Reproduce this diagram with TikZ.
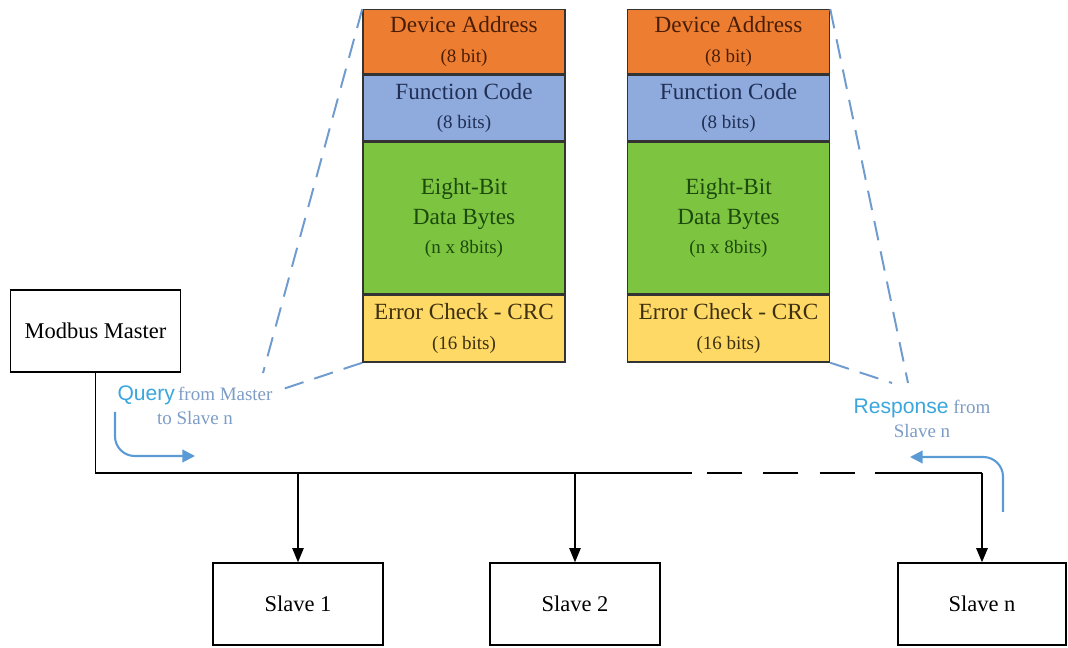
\documentclass[tikz,border=0pt]{standalone}
\usepackage{fontspec}
\setmainfont{Liberation Serif}
\setsansfont{Liberation Sans}
\usepackage{xcolor}
\usetikzlibrary{arrows.meta,positioning,calc}
\definecolor{addrorange}{HTML}{ED7D31}
\definecolor{funcblue}{HTML}{8FAADC}
\definecolor{datagreen}{HTML}{7DC441}
\definecolor{crcyellow}{HTML}{FFD966}
\definecolor{addrtext}{HTML}{4A1E06}
\definecolor{functext}{HTML}{1F2F55}
\definecolor{datatext}{HTML}{1C4A0C}
\definecolor{crctext}{HTML}{3D3010}
\definecolor{zoomblue}{HTML}{6F9BCF}
\definecolor{flowblue}{HTML}{5B9BD5}
\definecolor{labelblue}{HTML}{3AA6DD}
\definecolor{notegray}{HTML}{7D9CC6}
\newcommand{\smallbits}{\fontsize{13.5}{16}\selectfont}
\tikzset{
	unit/.style={draw=black, line width=1pt, minimum width=4.25cm, minimum height=2.05cm, font=\fontsize{16}{19}\selectfont},
	field/.style={draw=black!80, line width=1pt, minimum width=5.05cm, align=center, inner sep=0pt, font=\fontsize{16.5}{21}\selectfont},
	zoomline/.style={zoomblue, line width=1.4pt, dash pattern=on 14pt off 8pt},
	bus/.style={line width=1.4pt},
	drop/.style={line width=1pt, -{Triangle[length=10pt,width=8pt]}},
	flow/.style={flowblue, line width=1.5pt, rounded corners=14pt, -{Triangle[length=9pt,width=9pt]}},
	note/.style={align=center, text=notegray, font=\fontsize{13.5}{17}\selectfont}
}
\begin{document}
\begin{tikzpicture}[x=0.025cm, y=-0.025cm]
		\useasboundingbox (0,0) rectangle (1068,648);
		\foreach \fx/\fn in {464/q, 728.5/r} {
			\node[field, fill=addrorange, text=addrtext, minimum height=1.6cm, anchor=north] (\fn addr) at (\fx,9) {Device Address\\{\smallbits(8 bit)}};
			\node[field, fill=funcblue, text=functext, minimum height=1.65cm, below=0pt of \fn addr] (\fn func) {Function Code\\{\smallbits(8 bits)}};
			\node[field, fill=datagreen, text=datatext, minimum height=3.775cm, below=0pt of \fn func] (\fn data) {Eight-Bit\\Data Bytes\\{\smallbits(n x 8bits)}};
			\node[field, fill=crcyellow, text=crctext, minimum height=1.675cm, below=0pt of \fn data] (\fn crc) {Error Check - CRC\\{\smallbits(16 bits)}};
		}
		\node[unit] (master) at (95.5,331) {Modbus Master};
		\node[unit] (slave1) at (298,604) {Slave 1};
		\node[unit] (slave2) at (575,604) {Slave 2};
		\node[unit, minimum width=4.2cm] (slaven) at (982,604) {Slave n};
		\node[note] (query) at (195,405) {{\sffamily\fontsize{15}{17}\selectfont\textcolor{labelblue}{Query}}\,from Master\\to Slave n};
		\node[note] (response) at (922,418) {{\sffamily\fontsize{15}{17}\selectfont\textcolor{labelblue}{Response}} from\\Slave n};
		\coordinate (qfoot1) at (263,373);
		\coordinate (qfoot2) at (283,389);
		\coordinate (rfoot1) at (908,383);
		\coordinate (rfoot2) at (892,383);
		\draw[zoomline] (qaddr.north west) -- (qfoot1);
		\draw[zoomline] (qcrc.south west) -- (qfoot2);
		\draw[zoomline] (raddr.north east) -- (rfoot1);
		\draw[zoomline] (rcrc.south east) -- (rfoot2);
		\coordinate (gapl) at (692,473);
		\coordinate (dashl) at (707,473);
		\coordinate (dashr) at (860,473);
		\coordinate (gapr) at (875,473);
		\draw[bus] (master.south) |- (gapl);
		\draw[bus, dash pattern=on 25pt off 15pt] (dashl) -- (dashr);
		\draw[bus] (gapr) -| (slaven.north |- gapr);
		\draw[drop] (slave1.north |- gapl) -- (slave1.north);
		\draw[drop] (slave2.north |- gapl) -- (slave2.north);
		\draw[drop, line width=1.4pt] (slaven.north |- gapr) -- (slaven.north);
		\coordinate (qstart) at (115,412);
		\coordinate (qend) at (195,456);
		\coordinate (rstart) at (1003,512);
		\coordinate (rend) at (910,457);
		\draw[flow] (qstart) |- (qend);
		\draw[flow] (rstart) |- (rend);
	\end{tikzpicture}
\end{document}
